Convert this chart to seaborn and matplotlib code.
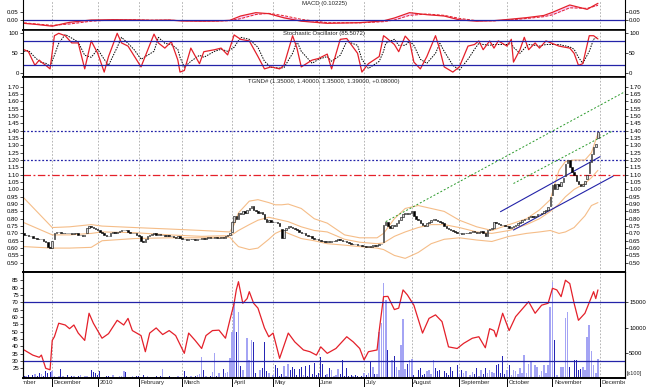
import numpy as np
import pandas as pd
import matplotlib
matplotlib.use("Agg")
import matplotlib.pyplot as plt
import seaborn as sns

sns.set_theme(style="white")
plt.rcParams['font.family'] = ['Liberation Sans', 'DejaVu Sans']
FS = 4.3
RED = '#e4202a'
BLUE = '#2323a8'
BAND = '#f5bd88'
GREEN = '#2a9a2a'
GRID = '#a8a8a8'

# trading calendar: weekdays without exchange holidays
holidays = ['2009-12-25', '2009-12-28', '2010-01-01', '2010-01-26', '2010-04-02',
            '2010-04-05', '2010-04-26', '2010-06-14', '2010-12-27', '2010-12-28']
first_day = '2009-11-12'
month_names = ['November', 'December', '2010', 'February', 'March', 'April', 'May',
               'June', 'July', 'August', 'September', 'October', 'November', 'December']

# daily bars (one value per trading day, 12 Nov 2009 - 30 Nov 2010)
close = [
    0.69, 0.69, 0.68, 0.68, 0.67, 0.67, 0.665, 0.66, 0.66, 0.65, 0.64, 0.61, 0.60,
    0.65, 0.70, 0.71, 0.71, 0.70, 0.70, 0.705, 0.70, 0.70, 0.695, 0.70, 0.70, 0.69, 0.69, 0.685, 0.69, 0.74, 0.75, 0.745, 0.74, 0.73,
    0.72, 0.71, 0.70, 0.69, 0.685, 0.68, 0.70, 0.71, 0.705, 0.71, 0.715, 0.72, 0.725, 0.72, 0.71, 0.70, 0.705, 0.70, 0.69,
    0.68, 0.65, 0.64, 0.66, 0.68, 0.69, 0.695, 0.70, 0.69, 0.695, 0.69, 0.69, 0.685, 0.69, 0.68, 0.68, 0.675, 0.67, 0.68, 0.67,
    0.665, 0.66, 0.655, 0.66, 0.665, 0.66, 0.655, 0.66, 0.665, 0.67, 0.665, 0.67, 0.675, 0.67, 0.67, 0.675, 0.67, 0.67, 0.675, 0.67, 0.68, 0.69, 0.70,
    0.78, 0.82, 0.80, 0.84, 0.83, 0.85, 0.84, 0.86, 0.87, 0.89, 0.86, 0.85, 0.84, 0.845, 0.83, 0.80, 0.78, 0.79, 0.78,
    0.78, 0.775, 0.77, 0.75, 0.67, 0.72, 0.74, 0.75, 0.745, 0.74, 0.73, 0.72, 0.71, 0.70, 0.70, 0.69, 0.685, 0.68, 0.67, 0.665, 0.66,
    0.655, 0.65, 0.645, 0.64, 0.645, 0.64, 0.645, 0.65, 0.655, 0.66, 0.655, 0.65, 0.645, 0.64, 0.635, 0.63, 0.63, 0.625, 0.62, 0.62, 0.615,
    0.615, 0.61, 0.615, 0.61, 0.62, 0.615, 0.62, 0.625, 0.63, 0.76, 0.78, 0.75, 0.74, 0.76, 0.75, 0.77, 0.79, 0.81, 0.83, 0.84, 0.83, 0.84,
    0.85, 0.82, 0.80, 0.79, 0.77, 0.76, 0.75, 0.77, 0.78, 0.79, 0.80, 0.79, 0.785, 0.78, 0.77, 0.75, 0.74, 0.73, 0.72, 0.715, 0.71, 0.70,
    0.70, 0.695, 0.70, 0.705, 0.70, 0.71, 0.715, 0.71, 0.705, 0.71, 0.715, 0.70, 0.68, 0.72, 0.73, 0.74, 0.775, 0.77, 0.765, 0.76, 0.755, 0.75,
    0.75, 0.74, 0.745, 0.75, 0.76, 0.77, 0.78, 0.79, 0.80, 0.80, 0.81, 0.82, 0.81, 0.82, 0.83, 0.83, 0.84, 0.85, 0.86, 0.88, 0.95,
    1.03, 1.00, 1.04, 1.02, 1.05, 1.08, 1.17, 1.20, 1.15, 1.12, 1.10, 1.06, 1.04, 1.02, 1.04, 1.06, 1.10, 1.19, 1.24, 1.29, 1.31, 1.39,
]
open_ = [
    0.70, 0.69, 0.69, 0.68, 0.68, 0.67, 0.67, 0.665, 0.66, 0.66, 0.65, 0.64, 0.61,
    0.60, 0.66, 0.70, 0.71, 0.71, 0.70, 0.70, 0.705, 0.70, 0.70, 0.695, 0.70, 0.70, 0.69, 0.69, 0.685, 0.70, 0.74, 0.75, 0.745, 0.74,
    0.73, 0.72, 0.71, 0.70, 0.69, 0.685, 0.68, 0.70, 0.71, 0.705, 0.71, 0.715, 0.72, 0.725, 0.72, 0.71, 0.70, 0.705, 0.70,
    0.69, 0.68, 0.65, 0.64, 0.66, 0.68, 0.69, 0.695, 0.70, 0.69, 0.695, 0.69, 0.69, 0.685, 0.69, 0.68, 0.68, 0.675, 0.67, 0.68,
    0.67, 0.665, 0.66, 0.655, 0.66, 0.665, 0.66, 0.655, 0.66, 0.665, 0.67, 0.665, 0.67, 0.675, 0.67, 0.67, 0.675, 0.67, 0.67, 0.675, 0.67, 0.68, 0.69,
    0.71, 0.78, 0.82, 0.80, 0.84, 0.83, 0.85, 0.84, 0.86, 0.87, 0.89, 0.86, 0.85, 0.84, 0.845, 0.83, 0.80, 0.78, 0.79,
    0.78, 0.78, 0.775, 0.77, 0.73, 0.67, 0.72, 0.74, 0.75, 0.745, 0.74, 0.73, 0.72, 0.71, 0.70, 0.70, 0.69, 0.685, 0.68, 0.67, 0.665,
    0.66, 0.655, 0.65, 0.645, 0.64, 0.645, 0.64, 0.645, 0.65, 0.655, 0.66, 0.655, 0.65, 0.645, 0.64, 0.635, 0.63, 0.63, 0.625, 0.62, 0.62,
    0.615, 0.615, 0.61, 0.615, 0.61, 0.62, 0.615, 0.62, 0.625, 0.64, 0.76, 0.78, 0.75, 0.74, 0.76, 0.75, 0.77, 0.79, 0.81, 0.83, 0.84, 0.83,
    0.84, 0.85, 0.82, 0.80, 0.79, 0.77, 0.76, 0.75, 0.77, 0.78, 0.79, 0.80, 0.79, 0.785, 0.78, 0.77, 0.75, 0.74, 0.73, 0.72, 0.715, 0.71,
    0.70, 0.70, 0.695, 0.70, 0.705, 0.70, 0.71, 0.715, 0.71, 0.705, 0.71, 0.715, 0.70, 0.68, 0.72, 0.73, 0.74, 0.775, 0.77, 0.765, 0.76, 0.755,
    0.75, 0.75, 0.74, 0.745, 0.75, 0.76, 0.77, 0.78, 0.79, 0.80, 0.80, 0.81, 0.82, 0.81, 0.82, 0.83, 0.83, 0.84, 0.85, 0.86, 0.89,
    0.96, 1.04, 1.00, 1.04, 1.02, 1.05, 1.09, 1.18, 1.20, 1.15, 1.12, 1.10, 1.06, 1.04, 1.02, 1.04, 1.07, 1.11, 1.19, 1.24, 1.29, 1.35,
]
volume = [
    400, 300, 600, 200, 500, 800, 400, 1000, 700, 300, 1300, 900, 1200,
    1300, 300, 200, 400, 1700, 300, 200, 500, 200, 300, 400, 200, 300, 500, 200, 400, 300, 200, 1600, 1200, 900,
    600, 1400, 300, 200, 400, 300, 200, 500, 300, 200, 300, 400, 1300, 1200, 200, 100, 300, 200, 400,
    300, 600, 500, 200, 300, 200, 100, 200, 300, 200, 400, 1700, 200, 100, 300, 200, 100, 200, 300, 200,
    200, 1300, 300, 200, 400, 200, 300, 500, 800, 4100, 1500, 300, 200, 400, 1200, 4900, 300, 900, 200, 1700, 1000, 1200, 4000,
    9200, 14900, 9200, 13000, 2400, 1500, 2500, 7900, 3500, 7500, 7200, 900, 4300, 1500, 2000, 7200, 1300, 1000, 800,
    600, 2500, 2000, 300, 700, 2300, 400, 2800, 1600, 2200, 1800, 500, 1800, 2200, 600, 2300, 400, 2500, 800, 3000, 600,
    1000, 4100, 2800, 500, 800, 1900, 1500, 300, 500, 1700, 800, 3600, 400, 1900, 300, 500, 300, 600, 400, 200, 300,
    900, 600, 900, 3200, 2100, 800, 800, 9200, 10800, 18800, 15500, 5600, 6700, 3600, 4300, 2100, 1600, 6600, 11600, 1800, 2800, 3600,
    3700, 600, 2100, 1600, 1900, 500, 800, 1300, 1600, 700, 3600, 1900, 1300, 1500, 700, 1300, 900, 500, 2100, 1300, 600, 2500,
    800, 1600, 900, 1300, 1600, 500, 1100, 700, 1900, 400, 1600, 800, 1900, 900, 1500, 1200, 900, 2500, 2700, 1000, 4300, 800,
    1600, 2500, 600, 1600, 1300, 700, 1900, 900, 4600, 1000, 2800, 3200, 800, 2500, 2100, 600, 1300, 2500, 900, 2500, 14000,
    19100, 7500, 600, 9200, 2100, 2100, 11800, 13100, 2100, 5200, 3600, 3600, 1600, 1800, 2100, 1500, 8200, 10500, 5400, 2500, 1000, 3700,
]

# Bollinger bands read at sample days
band_t = [0, 13, 21, 31, 36, 51, 67, 82, 95, 97, 99, 104, 108, 113, 116, 119, 122, 128, 134, 140,
          148, 155, 163, 166, 171, 176, 182, 188, 194, 201, 209, 216, 224, 232, 238, 243, 247, 250, 254, 259,
          262, 265]
band_up = [0.94, 0.74, 0.745, 0.76, 0.75, 0.74, 0.73, 0.72, 0.71, 0.76, 0.84, 0.92, 0.93, 0.91, 0.895, 0.895, 0.90, 0.87, 0.80, 0.77,
           0.69, 0.67, 0.67, 0.70, 0.80, 0.87, 0.89, 0.87, 0.85, 0.79, 0.745, 0.72, 0.76, 0.80, 0.86, 0.93, 1.13, 1.19, 1.20, 1.20,
           1.25, 1.38]
band_mid = [0.773, 0.69, 0.69, 0.70, 0.71, 0.705, 0.69, 0.68, 0.685, 0.70, 0.72, 0.76, 0.79, 0.81, 0.80, 0.79, 0.78, 0.745, 0.72, 0.71,
            0.66, 0.64, 0.63, 0.635, 0.68, 0.71, 0.74, 0.76, 0.76, 0.74, 0.71, 0.70, 0.72, 0.76, 0.80, 0.85, 0.90, 0.95, 1.00, 1.04,
            1.08, 1.13]
band_lo = [0.61, 0.60, 0.60, 0.605, 0.65, 0.665, 0.67, 0.67, 0.675, 0.64, 0.61, 0.59, 0.60, 0.66, 0.70, 0.72, 0.70, 0.665, 0.65, 0.63,
           0.62, 0.61, 0.60, 0.59, 0.55, 0.53, 0.57, 0.63, 0.66, 0.67, 0.655, 0.645, 0.68, 0.70, 0.71, 0.72, 0.70, 0.71, 0.74, 0.82,
           0.89, 0.91]

# trend channel lines (day, price)
green_a_t, green_a_p = [167, 278], [0.78, 1.67]
green_b_t, green_b_p = [226, 272], [1.04, 1.40]
blue_a_t, blue_a_p = [220, 266], [0.848, 1.223]
blue_b_t, blue_b_p = [226, 272], [0.723, 1.09]
levels_blue = [1.40, 1.20]
level_red = 1.10

# MACD
macd_t = [0, 6, 13, 21, 31, 41, 51, 59, 67, 73, 82, 89, 95, 100, 107, 113, 120, 128, 140, 155,
          166, 171, 178, 186, 194, 201, 209, 217, 224, 232, 240, 244, 252, 260, 265]
macd = [-0.018, -0.025, -0.035, -0.012, 0.002, 0.004, 0.003, 0.0, 0.002, -0.004, -0.005, -0.004, 0.0, 0.026, 0.046,
        0.040, 0.015, -0.005, -0.018, -0.014, -0.003, 0.014, 0.046, 0.034, 0.026, 0.003, -0.005, -0.002, 0.006, 0.016,
        0.029, 0.048, 0.092, 0.066, 0.102]
macd_sig = [-0.015, -0.022, -0.030, -0.022, -0.005, 0.002, 0.003, 0.001, 0.001, -0.002, -0.004, -0.004, -0.002, 0.010, 0.035,
            0.042, 0.028, 0.006, -0.014, -0.015, -0.008, 0.002, 0.030, 0.038, 0.030, 0.012, -0.002, -0.003, 0.002, 0.011,
            0.022, 0.033, 0.075, 0.072, 0.090]

# stochastic oscillator
sto_t = [0, 2, 5, 7, 8, 10, 12, 14, 16, 19, 22, 25, 28, 31, 34, 37, 39, 43, 45, 48,
         51, 54, 60, 62, 65, 68, 71, 72, 74, 77, 81, 83, 88, 91, 94, 97, 100, 104, 108, 111,
         114, 118, 120, 124, 126, 128, 133, 136, 140, 142, 146, 149, 154, 156, 159, 164, 166, 167, 171, 173,
         176, 178, 180, 183, 186, 190, 192, 194, 198, 201, 205, 208, 210, 212, 215, 217, 219, 223, 225, 226,
         229, 231, 233, 236, 238, 241, 247, 252, 254, 256, 258, 261, 263, 265]
sto_k = [59, 54, 20, 33, 28, 20, 11, 94, 100, 94, 76, 76, 11, 81, 50, 3, 42, 100, 76, 68,
         42, 16, 98, 76, 63, 79, 33, 3, 7, 63, 24, 54, 59, 63, 46, 96, 85, 81, 42, 11,
         16, 11, 20, 94, 63, 16, 33, 37, 48, 11, 85, 87, 50, 3, 24, 42, 94, 90, 72, 54,
         93, 81, 28, 11, 42, 94, 59, 16, 3, 16, 68, 72, 81, 59, 81, 63, 81, 68, 85, 28,
         59, 90, 59, 76, 63, 81, 68, 63, 50, 20, 24, 94, 94, 86]
sto_d = [55, 57, 40, 30, 27, 25, 18, 45, 75, 97, 88, 78, 45, 40, 60, 35, 20, 65, 90, 75,
         58, 35, 55, 90, 75, 72, 60, 40, 15, 30, 45, 40, 55, 60, 55, 65, 90, 85, 65, 30,
         15, 13, 14, 50, 80, 55, 25, 35, 42, 30, 45, 80, 70, 35, 12, 30, 55, 75, 85, 70,
         70, 80, 70, 35, 25, 50, 75, 55, 20, 8, 35, 60, 75, 72, 70, 72, 72, 72, 75, 65,
         50, 62, 72, 70, 68, 72, 72, 66, 60, 40, 25, 55, 85, 92]

# RSI
rsi_t = [0, 4, 7, 8, 10, 12, 13, 14, 16, 19, 21, 23, 25, 28, 30, 32, 36, 39, 43, 46,
         48, 50, 54, 56, 58, 61, 64, 67, 70, 74, 76, 79, 82, 84, 87, 90, 93, 95, 97, 98,
         99, 101, 103, 104, 106, 108, 111, 113, 115, 118, 122, 125, 129, 132, 135, 137, 140, 144, 149, 152,
         155, 157, 159, 163, 164, 166, 168, 171, 173, 175, 177, 180, 184, 187, 190, 193, 196, 200, 203, 207,
         210, 213, 215, 217, 218, 221, 224, 227, 231, 233, 236, 239, 242, 244, 246, 248, 250, 252, 254, 256,
         259, 263, 264, 265]
rsi = [37.5, 34, 32.5, 34, 25, 24, 44, 46.5, 55.7, 54.5, 52, 54.5, 49, 44, 62.5, 55.7, 45.5, 48.6, 57.7, 54.5,
       59, 50.7, 47.3, 36.3, 49, 52.5, 48, 50.7, 47.3, 35.2, 49, 44, 38.5, 47.3, 50.7, 51, 45.5, 57.7, 69.3, 78.4,
       84, 69.3, 72.5, 77.2, 69.3, 66, 52.5, 46.5, 49, 31.8, 49, 43, 37.5, 36.3, 34, 39.6, 35.2, 38.5, 46.5, 43,
       38.5, 30.7, 36.3, 37.5, 50.7, 73.8, 74, 65, 66, 78.4, 75, 68, 49, 59, 61.4, 56.8, 39.6, 38.5, 42, 45.5,
       46.5, 39, 52, 50.7, 46.5, 62.5, 50.7, 60.2, 67, 70.4, 62.5, 68, 69.3, 79.5, 78.4, 73.8, 85, 82.7, 69.3, 57.7,
       62.5, 77.2, 72.5, 78.4]

# ---- calendar / positions
cal = pd.bdate_range('2009-11-02', '2010-12-31')
cal = cal[~cal.isin(pd.to_datetime(holidays))]
t0 = cal.get_loc(pd.Timestamp(first_day))
pos = np.arange(len(cal)) - t0
n = len(close)
df = pd.DataFrame({'t': pos[t0:t0 + n], 'date': cal[t0:t0 + n],
                   'open': open_, 'close': close, 'vol': volume})
df['up'] = df.close >= df.open
month_pos = pd.Series(pos, index=cal).groupby(cal.to_period('M')).first().values

# ---- figure
W_PX, H_PX = 650, 387
fig = plt.figure(figsize=(6.5, 3.87), dpi=100)
fig.patch.set_facecolor('white')


def panel(top, bottom):
    return fig.add_axes([23 / W_PX, 1 - bottom / H_PX, 602 / W_PX, (bottom - top) / H_PX])


ax_macd = panel(0, 30)
ax_sto = panel(30, 77)
ax_px = panel(77, 272)
ax_vol = panel(272, 378)
ax_date = panel(378, 387)
ax_rsi = ax_vol.twinx()

XLIM = (-0.5, 277.5)
for ax in (ax_macd, ax_sto, ax_px, ax_vol, ax_rsi, ax_date):
    ax.set_xlim(*XLIM)
for ax in (ax_macd, ax_sto, ax_px, ax_vol):
    ax.set_facecolor('white')
    for p in month_pos:
        ax.axvline(p, color=GRID, lw=0.6, ls=(0, (2, 2)), zorder=0)


def style(ax, ticks, fmt, left=True, right=True):
    ax.set_yticks(ticks)
    ax.set_yticklabels([fmt.format(v) for v in ticks])
    ax.tick_params(axis='y', which='major', direction='out', length=2, width=0.5, pad=1,
                   labelsize=FS, colors='black', left=left, right=right,
                   labelleft=left, labelright=right)
    ax.tick_params(axis='x', bottom=False, top=False, labelbottom=False)
    ax.set_xlabel('')
    ax.set_ylabel('')
    for name, s in ax.spines.items():
        s.set_color('black')
        s.set_linewidth(1.2 if name in ('top', 'bottom') else 0.8)


# MACD
sns.lineplot(x=macd_t, y=macd_sig, ax=ax_macd, color=RED, lw=0.7, linestyle=(0, (3, 1.5)))
sns.lineplot(x=macd_t, y=macd, ax=ax_macd, color=RED, lw=0.9)
ax_macd.fill_between(macd_t, macd, macd_sig, color='#f090f0', alpha=0.45, lw=0)
ax_macd.axhline(0, color=BLUE, lw=0.9)
ax_macd.set_ylim(-0.058, 0.122)
style(ax_macd, [0.0, 0.05], '{:.2f}')
ax_macd.spines['top'].set_visible(False)
ax_macd.text(0.5, 0.97, 'MACD (0.10225)', transform=ax_macd.transAxes,
             ha='center', va='top', fontsize=FS)

# stochastic
sns.lineplot(x=sto_t, y=sto_d, ax=ax_sto, color='black', lw=0.7, linestyle=(0, (1.5, 1.2)))
sns.lineplot(x=sto_t, y=sto_k, ax=ax_sto, color=RED, lw=0.9)
for lv in (80, 20):
    ax_sto.axhline(lv, color=BLUE, lw=0.9)
ax_sto.set_ylim(-9.3, 108.3)
style(ax_sto, [0, 50, 100], '{:d}')
ax_sto.text(0.5, 0.97, 'Stochastic Oscillator (85.5072)', transform=ax_sto.transAxes,
            ha='center', va='top', fontsize=FS)

# price
for lv in levels_blue:
    ax_px.axhline(lv, color=BLUE, lw=0.9, ls=(0, (1.5, 1.5)))
ax_px.axhline(level_red, color=RED, lw=0.9, ls=(0, (6, 2, 1.5, 2)))
for vals in (band_up, band_mid, band_lo):
    sns.lineplot(x=band_t, y=vals, ax=ax_px, color=BAND, lw=0.8)
sns.lineplot(x=green_a_t, y=green_a_p, ax=ax_px, color=GREEN, lw=0.7, linestyle=(0, (2, 2)))
sns.lineplot(x=green_b_t, y=green_b_p, ax=ax_px, color=GREEN, lw=0.7, linestyle=(0, (2, 2)))
sns.lineplot(x=blue_a_t, y=blue_a_p, ax=ax_px, color=BLUE, lw=0.8)
sns.lineplot(x=blue_b_t, y=blue_b_p, ax=ax_px, color=BLUE, lw=0.8)
ax_px.bar(df.t, df.close - df.open, bottom=df.open, width=0.7,
          color=np.where(df.up, '#d4d4d4', 'black'), edgecolor='black', linewidth=0.4, zorder=3)
ax_px.set_ylim(0.437, 1.766)
style(ax_px, list(np.round(np.arange(0.50, 1.701, 0.05), 2)), '{:.2f}')
ax_px.text(0.5, 0.99, 'TGND# (1.35000, 1.40000, 1.35000, 1.39000, +0.08000)',
           transform=ax_px.transAxes, ha='center', va='top', fontsize=FS)

# volume + RSI
up = df[df.up]
dn = df[~df.up]
ax_vol.bar(up.t, up.vol, width=0.75, color='#a4a4f4', linewidth=0)
ax_vol.bar(dn.t, dn.vol, width=0.4, color='#2626b4', linewidth=0)
ax_vol.set_ylim(0, 21000)
style(ax_vol, [5000, 10000, 15000], '{:d}', left=False, right=True)
ax_vol.yaxis.set_label_position('right')

sns.lineplot(x=rsi_t, y=rsi, ax=ax_rsi, color=RED, lw=0.9)
for lv in (70, 30):
    ax_rsi.axhline(lv, color=BLUE, lw=0.9)
ax_rsi.set_ylim(18.4, 90.6)
style(ax_rsi, list(range(25, 90, 5)), '{:d}', left=True, right=False)
ax_rsi.yaxis.tick_left()
ax_rsi.tick_params(axis='y', labelleft=True, labelright=False, labelsize=FS, length=2, width=0.5, pad=1)
fig.text(627 / W_PX, 1 - 374 / H_PX, '[x100]', fontsize=FS - 0.3, va='center', ha='left')

# date strip
ax_date.set_ylim(0, 1)
ax_date.axis('off')
for p, name in zip(month_pos, month_names):
    ax_date.axvline(p, color='black', lw=0.7)
    ax_date.text(p + 0.8, 0.45, name, fontsize=FS, ha='left', va='center', clip_on=True)

fig.savefig('out.png', dpi=100, facecolor='white')
